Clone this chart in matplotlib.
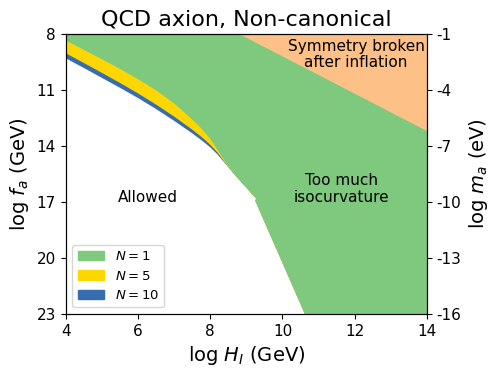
import matplotlib
matplotlib.use("Agg")
import matplotlib.pyplot as plt
from matplotlib.patches import Patch

plt.rcParams['axes.unicode_minus'] = False

# excluded-region boundaries (log H_I, log f_a)
H_head = [4.0, 4.5, 5.0, 5.5, 6.0, 6.5, 7.0, 7.5, 7.75, 8.0, 8.2, 8.41]
f_head_n1 = [8.35, 8.85, 9.35, 9.87, 10.42, 11.02, 11.72, 12.58, 13.05, 13.62, 14.2, 14.85]
f_head_n5 = [9.03, 9.55, 10.08, 10.62, 11.18, 11.78, 12.42, 13.12, 13.5, 13.93, 14.35, 14.90]
f_head_n10 = [9.30, 9.82, 10.35, 10.88, 11.43, 12.02, 12.65, 13.32, 13.68, 14.07, 14.45, 14.93]
# common tail of all three curves
H_tail = [8.64, 9.22, 9.27, 9.25, 10.62]
f_tail = [15.46, 16.71, 16.80, 16.95, 23.0]

# symmetry broken after inflation (f_a < H_I / 2pi)
H_sym = [8.8, 14.0]
f_sym = [8.0, 13.2]

xlim = (4, 14)
ylim = (23, 8)
x_ticks = [4, 6, 8, 10, 12, 14]
y_ticks = [8, 11, 14, 17, 20, 23]
m_ticks = [-1, -4, -7, -10, -13, -16]

c_n1 = '#7fc97f'
c_n5 = '#ffd700'
c_n10 = '#386cb0'
c_sym = '#fdc086'


def excluded_polygon(f_head):
    xs = [xlim[0]] + H_head + H_tail + [xlim[1], xlim[1]]
    ys = [ylim[1]] + f_head + f_tail + [ylim[0], ylim[1]]
    return xs, ys


fig = plt.figure(figsize=(4.99, 3.76), dpi=100)
ax = fig.add_axes([0.1317, 0.1649, 0.7240, 0.7447])

for f_head, c in [(f_head_n10, c_n10), (f_head_n5, c_n5), (f_head_n1, c_n1)]:
    xs, ys = excluded_polygon(f_head)
    ax.fill(xs, ys, color=c, lw=0)

ax.fill(H_sym + [xlim[1]], f_sym + [ylim[1]], color=c_sym, lw=0)

ax.set_xlim(*xlim)
ax.set_ylim(*ylim)
ax.set_xticks(x_ticks)
ax.set_yticks(y_ticks)
ax.tick_params(labelsize=11)
ax.set_xlabel('log $H_I$ (GeV)', fontsize=14)
ax.set_ylabel('log $f_a$ (GeV)', fontsize=14)
ax.set_title('QCD axion, Non-canonical', fontsize=16)

ax.text(6.28, 16.75, 'Allowed', fontsize=11, ha='center', va='center')
ax.text(11.64, 16.3, 'Too much\nisocurvature', fontsize=11, ha='center',
        va='center', linespacing=1.1)
ax.text(12.04, 9.1, 'Symmetry broken\nafter inflation', fontsize=11,
        ha='center', va='center', linespacing=1.1)

handles = [Patch(color=c_n1, label='$N=1$'),
           Patch(color=c_n5, label='$N=5$'),
           Patch(color=c_n10, label='$N=10$')]
ax.legend(handles=handles, loc='lower left', fontsize=9.5)

ax2 = ax.twinx()
ax2.set_ylim(-16, -1)
ax2.set_yticks(m_ticks)
ax2.set_yticklabels([str(m) for m in m_ticks])
ax2.tick_params(labelsize=11)
ax2.set_ylabel('log $m_a$ (eV)', fontsize=14)

fig.savefig('out.png', dpi=100)
